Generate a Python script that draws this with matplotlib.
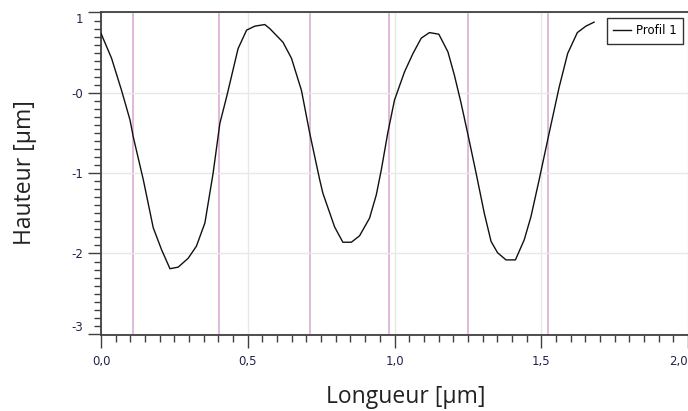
import numpy as np
import matplotlib
matplotlib.use("Agg")
import matplotlib.pyplot as plt
from matplotlib.ticker import MultipleLocator, FixedLocator

# profile
x = [0.000, 0.036, 0.070, 0.099, 0.110, 0.144, 0.178, 0.206, 0.235, 0.263,
     0.297, 0.325, 0.354, 0.382, 0.405, 0.428, 0.467, 0.496, 0.524, 0.558,
     0.575, 0.620, 0.649, 0.683, 0.711, 0.745, 0.756, 0.796, 0.824, 0.853,
     0.881, 0.915, 0.938, 0.955, 0.977, 1.000, 1.034, 1.063, 1.091, 1.119,
     1.151, 1.182, 1.204, 1.227, 1.252, 1.278, 1.306, 1.329, 1.351, 1.380,
     1.412, 1.442, 1.465, 1.493, 1.527, 1.561, 1.590, 1.623, 1.652, 1.680]
y = [0.74, 0.43, 0.03, -0.34, -0.55, -1.08, -1.68, -1.95, -2.19, -2.17,
     -2.06, -1.91, -1.62, -1.00, -0.38, -0.05, 0.55, 0.78, 0.83, 0.85,
     0.80, 0.63, 0.43, 0.03, -0.50, -1.08, -1.25, -1.67, -1.86, -1.86,
     -1.78, -1.56, -1.27, -0.96, -0.50, -0.09, 0.26, 0.49, 0.68, 0.75,
     0.73, 0.51, 0.22, -0.13, -0.55, -1.00, -1.50, -1.85, -1.99, -2.08,
     -2.08, -1.83, -1.54, -1.08, -0.50, 0.07, 0.49, 0.75, 0.83, 0.88]

markers = [0.109, 0.401, 0.711, 0.980, 1.252, 1.524]

xticks = [0.0, 0.5, 1.0, 1.5, 2.0]
xticklabels = ["0,0", "0,5", "1,0", "1,5", "2,0"]
yticks = [1, 0, -1, -2, -3]
yticklabels = ["1", "-0", "-1", "-2", "-3"]

tickfont = ["Liberation Sans Narrow", "DejaVu Sans"]
labelfont = ["Open Sans", "DejaVu Sans"]

fig = plt.figure(figsize=(6.88, 4.11), dpi=100)
ax = fig.add_axes([101/688, 76/411, 587/688, 322.5/411])

ax.grid(True, color="#e8e8e8", linewidth=1.0, zorder=0)
for m in markers:
    ax.axvline(m, color="#d9a6cf", linewidth=1.1, zorder=1)
ax.plot(x, y, color="#111111", linewidth=1.0, label="Profil 1", zorder=3)

ax.set_xlim(0, 2.0)
ax.set_ylim(-3.015, 1.0)

ax.xaxis.set_major_locator(FixedLocator(xticks))
ax.set_xticklabels(xticklabels, family=tickfont)
ax.xaxis.set_minor_locator(MultipleLocator(0.05))
ax.yaxis.set_major_locator(FixedLocator(yticks))
ax.set_yticklabels(yticklabels, family=tickfont)
ax.yaxis.set_minor_locator(MultipleLocator(0.1))

ax.tick_params(which="major", length=9.5, width=1, color="#404040",
               labelsize=8.5, labelcolor="#23234f", direction="out")
ax.tick_params(axis="x", which="major", pad=5)
ax.tick_params(which="minor", length=5, width=1, color="#404040", direction="out")
for s in ["left", "bottom", "top"]:
    ax.spines[s].set_color("#404040")
    ax.spines[s].set_linewidth(1.3)
ax.spines["right"].set_visible(False)

# end labels kept inside the plot area, as in the reference
ylabs = ax.get_yticklabels()
ylabs[0].set_va("top")
ylabs[-1].set_va("bottom")
ax.get_xticklabels()[-1].set_ha("right")

ax.set_xlabel("Longueur [µm]", fontsize=16.5, family=labelfont, color="#222222")
ax.xaxis.set_label_coords(406/688, 1 - 385/411, transform=fig.transFigure)
ax.set_ylabel("Hauteur [µm]", fontsize=16.5, family=labelfont, color="#222222")
ax.yaxis.set_label_coords(37/688, 1 - 173/411, transform=fig.transFigure)

leg = ax.legend(loc="upper right", bbox_to_anchor=(683/688, 1 - 18/411),
                bbox_transform=fig.transFigure, borderaxespad=0, fancybox=False,
                framealpha=1, edgecolor="#333333", fontsize=8.5, handlelength=1.5,
                handletextpad=0.4, borderpad=0.55,
                prop={"family": tickfont, "size": 8.5})
leg.get_frame().set_linewidth(1.0)

fig.savefig("out.png", dpi=100)
